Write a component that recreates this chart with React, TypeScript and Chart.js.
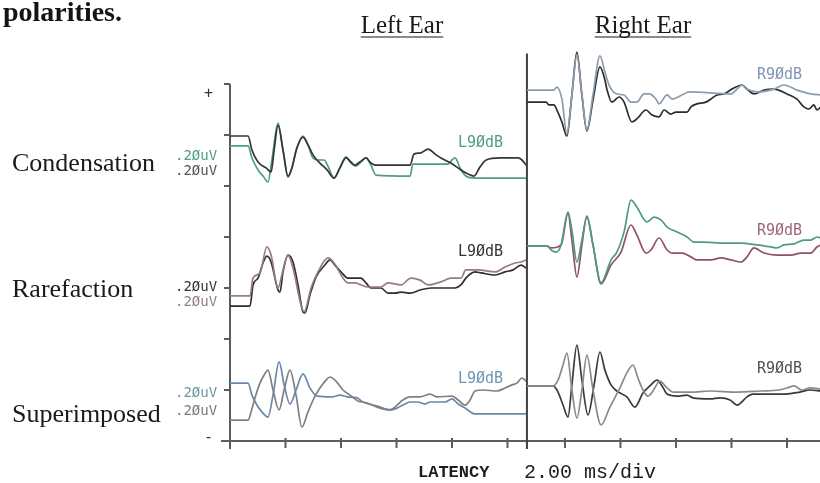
import React, { useEffect, useRef } from "react";
import { Chart, registerables } from "chart.js";

Chart.register(...registerables);

type Pt = [number, number]; // [latency ms, amplitude µV relative to row baseline]

// ---------- axes / windows ----------
const LEFT_TICKS_MS = [0, 2, 4, 6, 8, 10];
const RIGHT_TICKS_MS = [2, 4, 6, 8, 10];
const LEFT_WINDOW_END_MS = 10.7;
const RIGHT_PANEL_OFFSET_MS = 10.07;
const X_MAX_MS = 21.26;
const AMP_TICKS_UV = [0, 0.2, 0.4, 0.6, 0.8, 1.0, 1.2, 1.4];
const Y_MAX_UV = 1.5;
const DIVIDER_TOP_UV = 1.52;
const ROW_BASELINE_UV = [1.2, 0.6, 0.2]; // condensation, rarefaction, superimposed

// ---------- text ----------
const TITLE_FRAGMENT = "polarities.";
const PANEL_TITLES = ["Left Ear", "Right Ear"];
const ROW_LABELS = ["Condensation", "Rarefaction", "Superimposed"];
const SCALE_LABEL = ".2ØuV";
const LEFT_TAG = "L9ØdB";
const RIGHT_TAG = "R9ØdB";
const X_TITLE = "LATENCY";
const X_SCALE_NOTE = "2.00 ms/div";

// ---------- Left ear ----------
const leftCondBlack: Pt[] = [[0,-0.004],[0.65,-0.004],[0.79,-0.059],[1.01,-0.106],[1.30,-0.129],[1.48,-0.145],[1.59,-0.059],[1.73,0.039],[1.91,-0.059],[2.09,-0.161],[2.23,-0.129],[2.41,-0.051],[2.63,-0.008],[2.81,-0.039],[2.99,-0.078],[3.24,-0.110],[3.50,-0.137],[3.75,-0.169],[3.96,-0.129],[4.18,-0.090],[4.36,-0.106],[4.50,-0.118],[4.68,-0.106],[4.90,-0.090],[5.08,-0.110],[5.26,-0.118],[6.49,-0.118],[6.63,-0.075],[6.85,-0.071],[7.14,-0.055],[7.39,-0.075],[7.60,-0.090],[7.96,-0.110],[8.32,-0.137],[8.58,-0.153],[8.79,-0.161],[9.01,-0.125],[9.23,-0.098],[9.73,-0.090],[10.38,-0.090],[10.52,-0.098],[10.67,-0.118]];
const leftCondTeal: Pt[] = [[0,-0.043],[0.65,-0.043],[0.79,-0.090],[1.01,-0.137],[1.19,-0.161],[1.37,-0.184],[1.51,-0.098],[1.73,0.047],[1.91,-0.059],[2.09,-0.165],[2.23,-0.129],[2.41,-0.051],[2.63,-0.004],[2.81,-0.039],[2.99,-0.090],[3.17,-0.098],[3.39,-0.098],[3.53,-0.122],[3.75,-0.169],[3.96,-0.129],[4.18,-0.086],[4.36,-0.110],[4.54,-0.122],[4.72,-0.106],[4.90,-0.090],[5.08,-0.118],[5.26,-0.157],[6.49,-0.161],[6.59,-0.114],[7.86,-0.114],[8.00,-0.098],[8.11,-0.090],[8.29,-0.129],[8.50,-0.161],[8.83,-0.169],[10.67,-0.169]];
const leftRareBlack: Pt[] = [[0,-0.071],[0.72,-0.071],[0.83,0.012],[1.01,0.039],[1.19,0.098],[1.33,0.125],[1.48,0.102],[1.73,-0.008],[1.80,-0.016],[1.91,0.063],[2.09,0.129],[2.27,0.102],[2.45,0.012],[2.63,-0.094],[2.70,-0.098],[2.88,-0.027],[3.10,0.043],[3.42,0.090],[3.60,0.110],[3.78,0.090],[4.00,0.063],[4.25,0.039],[4.72,0.039],[4.90,0.020],[5.08,0],[5.44,0],[5.69,-0.020],[5.95,-0.020],[6.16,-0.016],[6.49,-0.020],[6.85,-0.008],[7.24,0],[8.11,0],[8.32,0.012],[8.50,0.039],[8.83,0.063],[9.05,0.059],[9.55,0.051],[9.91,0.063],[10.20,0.071],[10.49,0.090],[10.67,0.078]];
const leftRareRed: Pt[] = [[0,-0.031],[0.72,-0.031],[0.83,0.039],[1.08,0.059],[1.33,0.161],[1.48,0.129],[1.73,0],[1.91,0.071],[2.09,0.129],[2.27,0.078],[2.56,-0.067],[2.67,-0.094],[2.92,0],[3.17,0.063],[3.53,0.118],[3.75,0.098],[4.07,0.039],[4.25,0.020],[4.50,0.020],[4.72,0.012],[4.97,0.004],[5.44,0.004],[5.69,0.020],[6.16,0.012],[6.52,0.039],[6.85,0.031],[7.14,0.012],[7.60,0.024],[7.96,0.039],[8.32,0.039],[8.50,0.071],[8.94,0.071],[9.55,0.063],[9.91,0.082],[10.27,0.098],[10.49,0.102],[10.67,0.110]];
const leftSupCond: Pt[] = [[0,0.027],[0.65,0.027],[0.79,-0.020],[0.97,-0.059],[1.15,-0.086],[1.37,-0.106],[1.55,-0.020],[1.77,0.110],[1.95,0.020],[2.16,-0.055],[2.38,0],[2.63,0.063],[2.88,0.008],[3.14,-0.024],[3.68,-0.027],[3.96,-0.020],[4.22,-0.027],[4.58,-0.031],[4.79,-0.047],[5.30,-0.063],[5.77,-0.078],[6.02,-0.071],[6.23,-0.059],[6.49,-0.047],[6.77,-0.047],[7.03,-0.055],[7.21,-0.047],[7.75,-0.047],[8.00,-0.035],[8.22,-0.055],[8.47,-0.071],[8.83,-0.094],[10.67,-0.094]];
const leftSupRare: Pt[] = [[0,-0.118],[0.65,-0.118],[0.76,-0.086],[0.90,-0.031],[1.08,0.027],[1.23,0.059],[1.37,0.078],[1.55,0],[1.77,-0.078],[1.95,0],[2.16,0.078],[2.38,-0.020],[2.59,-0.145],[2.81,-0.086],[3.03,-0.031],[3.24,0.008],[3.46,0.039],[3.60,0.051],[3.82,0.035],[4.07,0],[4.32,-0.020],[4.61,-0.043],[4.94,-0.051],[5.30,-0.067],[5.77,-0.078],[6.02,-0.059],[6.23,-0.039],[6.49,-0.027],[6.85,-0.027],[7.21,-0.016],[7.46,-0.027],[8.00,-0.024],[8.22,-0.039],[8.47,-0.059],[8.65,-0.039],[8.83,-0.004],[9.12,0],[9.62,-0.004],[9.91,0.008],[10.16,0.020],[10.34,0.027],[10.52,0.047],[10.67,0.035]];

// ---------- Right ear ----------
const rightCondLight: Pt[] = [[0.63,0.176],[1.60,0.176],[1.71,0.188],[1.89,0.141],[2.07,0.004],[2.25,0.157],[2.43,0.314],[2.61,0.157],[2.79,0.020],[3.01,0.157],[3.26,0.310],[3.44,0.247],[3.59,0.196],[3.87,0.161],[4.13,0.157],[4.38,0.129],[4.59,0.129],[4.85,0.161],[5.03,0.161],[5.28,0.141],[5.39,0.122],[5.68,0.157],[5.86,0.141],[6.29,0.161],[6.47,0.169],[7.98,0.161],[8.20,0.180],[8.38,0.196],[8.56,0.180],[8.92,0.169],[9.53,0.180],[9.89,0.196],[10.36,0.176],[10.86,0.161],[11.23,0.157]];
const rightCondBlack: Pt[] = [[0.63,0.129],[1.32,0.129],[1.42,0.118],[1.60,0.118],[1.71,0.098],[1.89,0.051],[2.07,-0.004],[2.25,0.157],[2.43,0.325],[2.61,0.157],[2.79,0.016],[3.01,0.137],[3.26,0.267],[3.44,0.216],[3.51,0.180],[3.69,0.129],[3.95,0.149],[4.13,0.129],[4.41,0.051],[4.59,0.063],[4.92,0.098],[5.14,0.078],[5.39,0.071],[5.57,0.098],[5.82,0.082],[6.00,0.090],[6.40,0.090],[6.54,0.110],[6.76,0.122],[7.08,0.129],[7.26,0.141],[7.48,0.157],[7.73,0.161],[8.02,0.180],[8.38,0.196],[8.56,0.180],[8.81,0.161],[9.17,0.176],[9.53,0.180],[10.00,0.161],[10.36,0.141],[10.61,0.110],[10.79,0.102],[10.97,0.118],[11.08,0.098],[11.23,0.110]];
const rightRareTeal: Pt[] = [[0.63,0.165],[1.35,0.165],[1.50,0.149],[1.68,0.141],[1.86,0.169],[2.11,0.298],[2.25,0.227],[2.43,0.102],[2.61,0.188],[2.79,0.278],[3.01,0.169],[3.30,0.020],[3.66,0.110],[3.87,0.141],[4.13,0.220],[4.38,0.345],[4.59,0.318],[4.95,0.259],[5.21,0.278],[5.46,0.267],[5.68,0.239],[6.04,0.220],[6.40,0.200],[6.65,0.180],[7.01,0.180],[7.73,0.176],[8.34,0.176],[8.92,0.169],[9.42,0.161],[9.64,0.157],[9.89,0.169],[10.25,0.173],[10.61,0.188],[10.86,0.188],[11.08,0.200],[11.23,0.196]];
const rightRareRed: Pt[] = [[0.63,0.165],[1.35,0.165],[1.50,0.157],[1.86,0.169],[2.11,0.294],[2.25,0.188],[2.43,0.043],[2.61,0.169],[2.79,0.282],[3.01,0.169],[3.30,0.016],[3.66,0.090],[4.02,0.141],[4.38,0.247],[4.59,0.208],[4.92,0.137],[5.10,0.149],[5.39,0.196],[5.68,0.149],[5.86,0.137],[6.22,0.137],[6.54,0.122],[6.76,0.110],[7.26,0.110],[7.62,0.118],[7.98,0.110],[8.34,0.102],[8.56,0.122],[8.81,0.157],[9.17,0.137],[9.64,0.129],[10.14,0.129],[10.50,0.137],[10.86,0.137],[11.08,0.161],[11.23,0.169]];
const rightSupCond: Pt[] = [[0.63,0.016],[1.57,0.016],[1.75,-0.008],[1.93,-0.059],[2.11,-0.106],[2.25,0.020],[2.43,0.176],[2.61,0.039],[2.83,-0.098],[3.05,0.020],[3.26,0.149],[3.44,0.078],[3.66,0.020],[3.87,-0.004],[4.23,-0.027],[4.52,-0.067],[4.81,-0.012],[5.06,0.016],[5.32,0.039],[5.50,0.016],[5.68,-0.016],[6.04,-0.024],[6.40,-0.020],[6.61,-0.031],[7.23,-0.035],[7.59,-0.031],[7.95,-0.039],[8.20,-0.059],[8.56,-0.027],[8.77,-0.016],[9.96,-0.016],[10.47,-0.008],[10.83,0],[11.23,-0.004]];
const rightSupRare: Pt[] = [[0.63,0.016],[1.57,0.016],[1.75,0.039],[1.93,0.098],[2.07,0.145],[2.25,0],[2.43,-0.110],[2.61,0],[2.79,0.137],[3.01,0],[3.30,-0.137],[3.62,-0.067],[3.98,0.008],[4.23,0.067],[4.45,0.098],[4.63,0.047],[4.81,0],[4.99,-0.024],[5.17,-0.004],[5.42,0.035],[5.68,0.008],[5.89,-0.008],[6.51,-0.008],[7.23,-0.004],[8.20,-0.008],[9.03,-0.004],[9.71,0],[10.00,0.008],[10.25,0.016],[10.54,0],[10.83,0.008],[11.23,0.004]];

const TRACES = [
  { name: "L cond A", pts: leftCondBlack, row: 0, right: false, color: "#353535" },
  { name: "L cond B", pts: leftCondTeal, row: 0, right: false, color: "#4f9c8a" },
  { name: "L rare B", pts: leftRareRed, row: 1, right: false, color: "#947c84" },
  { name: "L rare A", pts: leftRareBlack, row: 1, right: false, color: "#2e2e2e" },
  { name: "L sup R", pts: leftSupRare, row: 2, right: false, color: "#808080" },
  { name: "L sup C", pts: leftSupCond, row: 2, right: false, color: "#6a86aa" },
  { name: "R cond B", pts: rightCondLight, row: 0, right: true, color: "#8c9cab" },
  { name: "R cond A", pts: rightCondBlack, row: 0, right: true, color: "#2c2c2c" },
  { name: "R rare B", pts: rightRareTeal, row: 1, right: true, color: "#4e9a86" },
  { name: "R rare A", pts: rightRareRed, row: 1, right: true, color: "#8e5262" },
  { name: "R sup R", pts: rightSupRare, row: 2, right: true, color: "#8a8a8a" },
  { name: "R sup C", pts: rightSupCond, row: 2, right: true, color: "#3a3a3a" },
];

const framePlugin = {
  id: "abrFrame",
  beforeDatasetsDraw(chart: any) {
    const { ctx } = chart;
    const xs = chart.scales.x;
    const ys = chart.scales.y;
    const line = (x1: number, y1: number, x2: number, y2: number) => {
      ctx.beginPath();
      ctx.moveTo(x1, y1);
      ctx.lineTo(x2, y2);
      ctx.stroke();
    };
    ctx.save();
    ctx.strokeStyle = "#5c5c5c";
    ctx.lineWidth = 2;
    const x0 = xs.getPixelForValue(0);
    const yb = ys.getPixelForValue(0);
    const yt = ys.getPixelForValue(AMP_TICKS_UV[AMP_TICKS_UV.length - 1]);
    line(x0, yt, x0, yb + 8);
    AMP_TICKS_UV.forEach((v) => {
      const py = ys.getPixelForValue(v);
      line(x0 - 6, py, x0, py);
    });
    line(x0 - 9, yb, chart.width, yb);
    LEFT_TICKS_MS.forEach((t) => {
      const px = xs.getPixelForValue(t);
      line(px, yb - 3, px, yb + 7);
    });
    RIGHT_TICKS_MS.forEach((t) => {
      const px = xs.getPixelForValue(t + RIGHT_PANEL_OFFSET_MS);
      line(px, yb - 3, px, yb + 7);
    });
    ctx.strokeStyle = "#404040";
    const xd = xs.getPixelForValue(LEFT_WINDOW_END_MS);
    line(xd, ys.getPixelForValue(DIVIDER_TOP_UV), xd, yb + 8);
    ctx.restore();
  },
  afterDraw(chart: any) {
    const { ctx } = chart;
    ctx.save();
    ctx.textBaseline = "alphabetic";
    ctx.textAlign = "left";
    // title fragment
    ctx.fillStyle = "#141414";
    ctx.font = 'bold 28px "Liberation Serif"';
    ctx.fillText(TITLE_FRAGMENT, 3, 21);
    // panel titles (underlined)
    ctx.font = '25px "Liberation Serif"';
    const centers = [402, 643];
    PANEL_TITLES.forEach((t, i) => {
      const w = ctx.measureText(t).width;
      const x = centers[i] - w / 2;
      ctx.fillStyle = "#1a1a1a";
      ctx.fillText(t, x, 33);
      ctx.strokeStyle = "#1a1a1a";
      ctx.lineWidth = 1.2;
      ctx.beginPath();
      ctx.moveTo(x, 37);
      ctx.lineTo(x + w, 37);
      ctx.stroke();
    });
    // row labels
    ctx.font = '26px "Liberation Serif"';
    ctx.fillStyle = "#1a1a1a";
    const rowBase = [171, 297, 422];
    ROW_LABELS.forEach((t, i) => ctx.fillText(t, 12, rowBase[i]));
    // scale labels
    ctx.font = '14px "DejaVu Sans Mono"';
    const scaleY = [[160, 175], [291, 306], [397, 415]];
    const scaleC = [["#4f9c8a", "#555555"], ["#333333", "#98808a"], ["#6a98a0", "#7a7a7a"]];
    scaleY.forEach((pair, i) => {
      pair.forEach((y, j) => {
        ctx.fillStyle = scaleC[i][j];
        ctx.fillText(SCALE_LABEL, 175, y);
      });
    });
    // tags
    ctx.font = '15px "DejaVu Sans Mono"';
    const lY = [147, 256, 383];
    const lC = ["#4f9c8a", "#333333", "#6f95b0"];
    lY.forEach((y, i) => { ctx.fillStyle = lC[i]; ctx.fillText(LEFT_TAG, 458, y); });
    const rY = [79, 235, 373];
    const rC = ["#7f95b5", "#a06676", "#505050"];
    rY.forEach((y, i) => { ctx.fillStyle = rC[i]; ctx.fillText(RIGHT_TAG, 757, y); });
    // polarity marks
    ctx.fillStyle = "#333";
    ctx.font = '15px "DejaVu Sans Mono"';
    ctx.fillText("+", 204, 98);
    ctx.fillText("-", 204, 442);
    // x title
    ctx.fillStyle = "#1c1c1c";
    ctx.font = 'bold 17px "Liberation Mono"';
    ctx.fillText(X_TITLE, 418, 477);
    ctx.font = '20px "Liberation Mono"';
    ctx.fillText(X_SCALE_NOTE, 524, 478);
    ctx.restore();
  },
};

export default function App() {
  const canvasRef = useRef<HTMLCanvasElement | null>(null);
  useEffect(() => {
    const canvas = canvasRef.current;
    if (!canvas) return;
    const datasets = TRACES.map((tr) => ({
      label: tr.name,
      data: tr.pts.map(([t, v]) => ({
        x: t + (tr.right ? RIGHT_PANEL_OFFSET_MS : 0),
        y: ROW_BASELINE_UV[tr.row] + v,
      })),
      showLine: true,
      borderColor: tr.color,
      backgroundColor: tr.color,
      borderWidth: 1.7,
      pointRadius: 0,
      cubicInterpolationMode: "monotone" as const,
      fill: false,
      clip: false as any,
      borderJoinStyle: "round" as const,
    }));
    const chart = new Chart(canvas, {
      type: "scatter",
      data: { datasets },
      options: {
        animation: false,
        responsive: false,
        devicePixelRatio: 1,
        layout: { padding: { left: 230, right: 0, top: 58.5, bottom: 42 } },
        scales: {
          x: { type: "linear", min: 0, max: X_MAX_MS, display: false },
          y: { type: "linear", min: 0, max: Y_MAX_UV, display: false },
        },
        plugins: { legend: { display: false }, tooltip: { enabled: false } },
      },
      plugins: [framePlugin],
    });
    return () => chart.destroy();
  }, []);
  return (
    <div style={{ position: "fixed", left: 0, top: 0, width: 820, height: 483, background: "#fff" }}>
      <canvas ref={canvasRef} width={820} height={483} style={{ display: "block" }} />
    </div>
  );
}
